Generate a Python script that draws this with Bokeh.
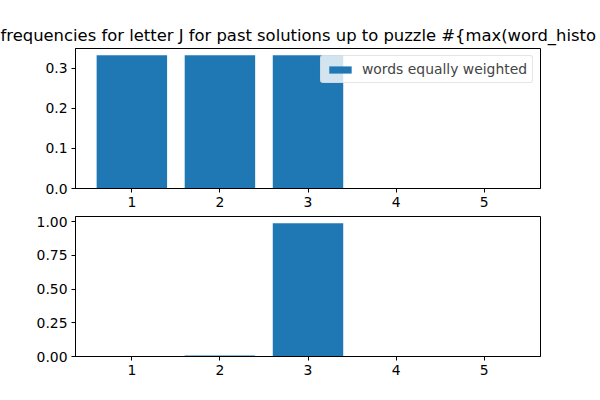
from bokeh.plotting import figure
from bokeh.layouts import column
from bokeh.models import Range1d, FixedTicker, NumeralTickFormatter, Legend, LegendItem, ColumnDataSource
from bokeh.embed import file_html
from bokeh.resources import INLINE

positions = [1, 2, 3, 4, 5]
equal_weighted = [0.333, 0.333, 0.333, 0.0, 0.0]
frequency_weighted = [0.0, 0.007, 0.988, 0.0, 0.0]
title_text = "frequencies for letter J for past solutions up to puzzle #{max(word_histo"
legend_label = "words equally weighted"
top_ticks = [0.0, 0.1, 0.2, 0.3]
bottom_ticks = [0.0, 0.25, 0.5, 0.75, 1.0]

BLUE = "#1f77b4"
FONT = "DejaVu Sans"
TICK_SIZE = "13.9px"


def style(p, yticks, fmt):
    p.xaxis.ticker = FixedTicker(ticks=positions)
    p.yaxis.ticker = FixedTicker(ticks=yticks)
    p.yaxis.formatter = NumeralTickFormatter(format=fmt)
    p.xgrid.visible = False
    p.ygrid.visible = False
    p.outline_line_color = "black"
    p.outline_line_width = 1
    p.outline_line_alpha = 1
    for ax in (p.xaxis, p.yaxis):
        ax.major_tick_out = 4
        ax.major_tick_in = 0
        ax.minor_tick_out = 0
        ax.minor_tick_in = 0
        ax.axis_line_color = "black"
        ax.major_tick_line_color = "black"
        ax.major_label_text_font = FONT
        ax.major_label_text_font_size = TICK_SIZE
        ax.major_label_text_color = "black"
        ax.major_label_standoff = 4


top = figure(width=600, height=214, output_backend="svg", toolbar_location=None,
             x_range=Range1d(0.36, 5.64), y_range=Range1d(0, max(equal_weighted) * 1.05),
             min_border_left=75, min_border_right=60, min_border_top=48, min_border_bottom=26)
top.frame_width = 465
top.frame_height = 140
src1 = ColumnDataSource(dict(x=positions, top=equal_weighted))
r1 = top.vbar(x="x", top="top", width=0.8, bottom=0, source=src1, fill_color=BLUE, line_color=None)
style(top, top_ticks, "0.0")
top.title.text = title_text
top.title.text_font = FONT
top.title.text_font_size = "16.4px"
top.title.text_font_style = "normal"
top.title.text_color = "black"
top.title.align = "left"
top.title.offset = -75
top.title.standoff = 7

legend = Legend(items=[LegendItem(label=legend_label, renderers=[r1])], location="top_right")
legend.margin = 7
legend.padding = 5
legend.glyph_width = 28
legend.glyph_height = 9
legend.label_height = 15
legend.label_standoff = 8
legend.label_text_font = FONT
legend.label_text_font_size = TICK_SIZE
legend.border_line_color = "#cccccc"
legend.border_line_width = 1
legend.border_radius = 3
legend.background_fill_alpha = 0.8
top.add_layout(legend, "center")

bottom = figure(width=600, height=186, output_backend="svg", toolbar_location=None,
                x_range=Range1d(0.36, 5.64), y_range=Range1d(0, max(frequency_weighted) * 1.05),
                min_border_left=75, min_border_right=60, min_border_top=2, min_border_bottom=44)
bottom.frame_width = 465
bottom.frame_height = 140
src2 = ColumnDataSource(dict(x=positions, top=frequency_weighted))
bottom.vbar(x="x", top="top", width=0.8, bottom=0, source=src2, fill_color=BLUE, line_color=None)
style(bottom, bottom_ticks, "0.00")

layout = column(top, bottom, spacing=0)
open("out.html", "w").write(file_html(layout, INLINE))
